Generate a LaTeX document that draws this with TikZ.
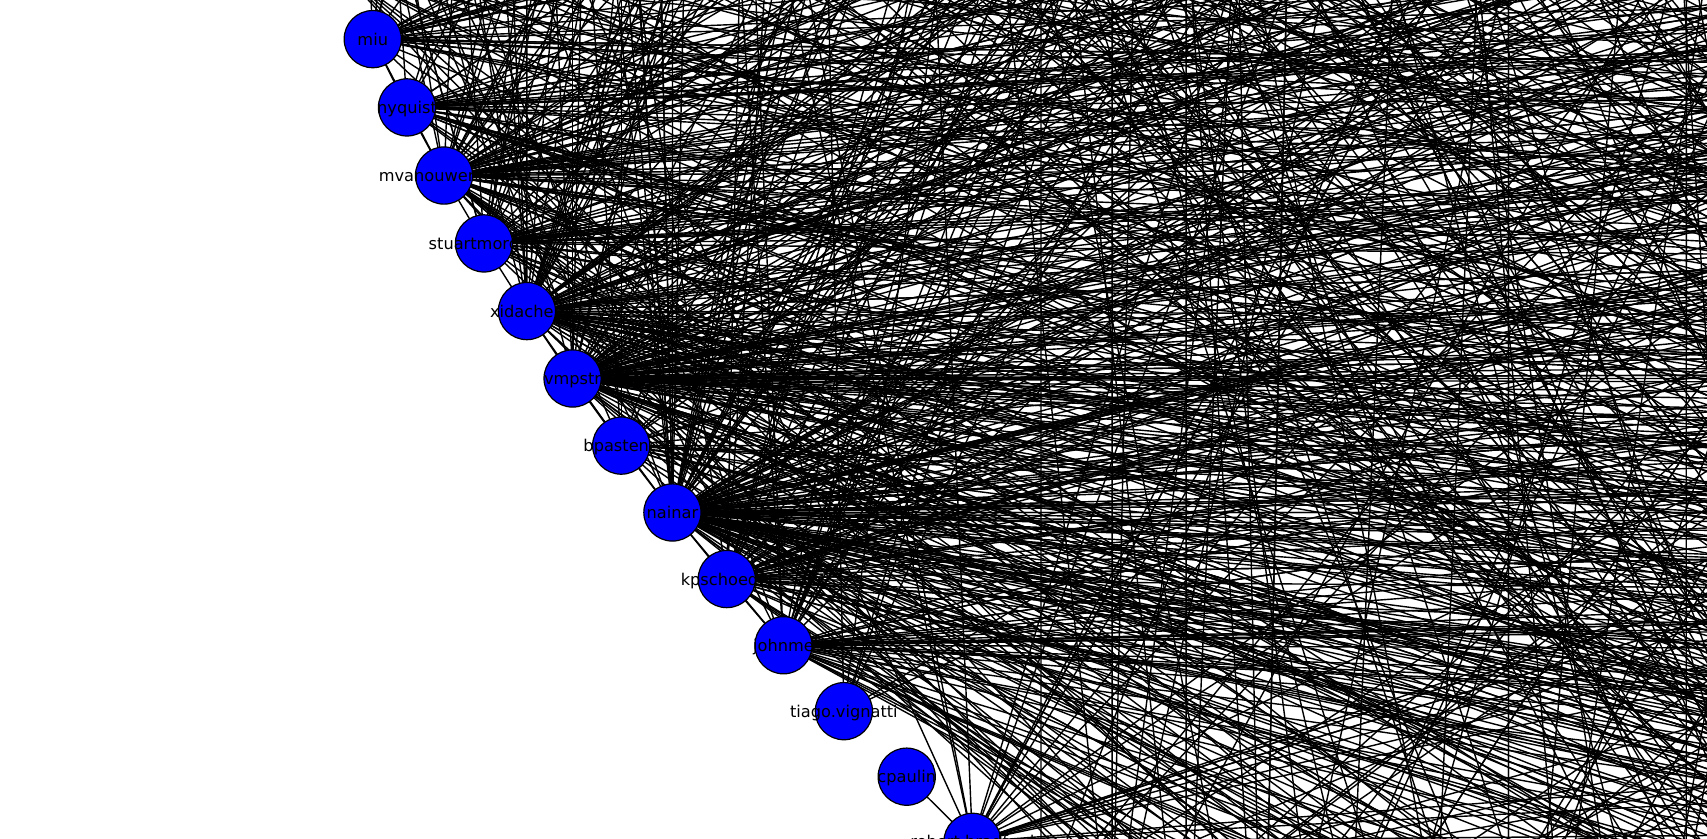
\documentclass[tikz,border=0pt]{standalone}
\usepackage{fontspec}
\setmainfont{DejaVu Sans}
\usepackage{xcolor}
\usepackage{tikz}
\definecolor{nodeblue}{HTML}{0000FF}

\begin{document}
\begin{tikzpicture}[
        x=2.5pt, y=-2.5pt,
        vertex/.style={
            circle,
            draw=black,
            line width=0.3pt,
            fill=nodeblue,
            inner sep=0pt,
            minimum size=14.3pt
        },
        edge/.style={
            draw=black,
            line width=0.35pt
        },
        tag/.style={
            anchor=base,
            inner sep=0pt,
            text=black,
            font=\fontsize{4.05pt}{4.8pt}\selectfont
        }
    ]
        \useasboundingbox (0,0) rectangle (170.7,83.8);
        \clip (0,0) rectangle (170.7,83.8);

        % Vertex positions on the stretched circle (400 vertices)
        \foreach \k in {0,...,399} {
            \coordinate (v\k) at ({1226.38+1207.1*cos(0.9*\k)}, {-72.09-442.15*sin(0.9*\k)});
        }

        \pgfmathsetseed{2017}

        % Edges between the far vertices (not the shown ones)
        \foreach \e in {1,...,2100} {
            \pgfmathtruncatemacro{\src}{random(0,76)}
            \pgfmathtruncatemacro{\src}{\src<50 ? 160+\src : 174+\src}
            \pgfmathtruncatemacro{\dst}{mod(\src+random(45,355),400)}
            \draw[edge] (v\src) -- (v\dst);
        }

        % Edges of the shown vertices
        \foreach \k/\nedges in {210/40, 211/35, 212/40, 213/70, 214/45, 215/85, 216/110,
                217/25, 218/130, 219/55, 220/50, 221/4, 223/50} {
            \foreach \e in {1,...,\nedges} {
                \pgfmathtruncatemacro{\dst}{mod(\k+random(14,386),400)}
                \draw[edge] (v\k) -- (v\dst);
            }
        }

        % Neighbour and vertical edges
        \foreach \a/\b in {211/212, 212/213, 213/214, 214/215, 215/216, 216/217, 217/218,
                218/219, 219/220, 222/223, 211/213, 215/217, 216/218, 218/220,
                218/182, 215/185, 224/176, 225/175, 226/174} {
            \draw[edge] (v\a) -- (v\b);
        }

        % Vertices
        \foreach \k in {210,...,223} {
            \node[vertex] (c\k) at (v\k) {};
        }

        % Labels
        \foreach \k/\txt in {211/miu, 212/nyquist, 213/mvanouwerkerk, 214/stuartmorgan,
                215/xidachen, 216/vmpstr, 217/bpastene, 218/nainar, 219/kpschoedel,
                220/johnme, 221/tiago.vignatti, 222/cpaulin, 223/robert.bradford} {
            \node[tag] at ([yshift=-1.5pt]c\k.center) {\txt};
        }
    \end{tikzpicture}
\end{document}
